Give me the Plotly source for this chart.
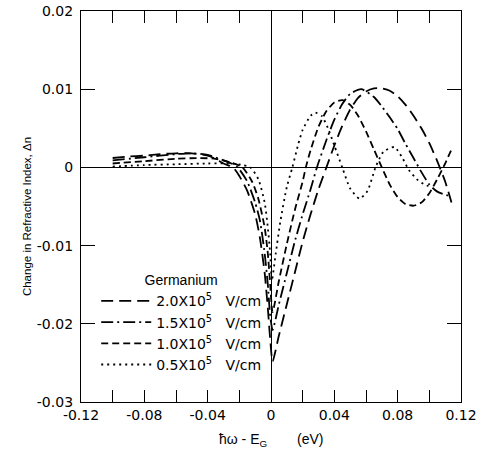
import plotly.graph_objects as go

# ---- data ----
x_20 = [-0.10, -0.09, -0.08, -0.07, -0.06, -0.05, -0.04, -0.035, -0.03, -0.024, -0.02, -0.015, -0.01, -0.007, -0.004, -0.002, -0.0005,
        0.001, 0.005, 0.01, 0.015, 0.02, 0.025, 0.03, 0.035, 0.04, 0.045, 0.05, 0.055, 0.06, 0.065, 0.07, 0.075, 0.08, 0.085, 0.09, 0.095, 0.10, 0.105, 0.11, 0.114]
y_20 = [0.0012, 0.0014, 0.0015, 0.0017, 0.0018, 0.0018, 0.0015, 0.0011, 0.0005, 0.0, -0.0011, -0.0030, -0.0060, -0.0090, -0.0135, -0.0180, -0.0220,
        -0.0248, -0.0215, -0.0175, -0.0135, -0.0095, -0.0060, -0.0028, 0.0, 0.0028, 0.0053, 0.0074, 0.0089, 0.0097, 0.0101, 0.0101, 0.0098, 0.0091, 0.0080, 0.0066, 0.0050, 0.0031, 0.0008, -0.0018, -0.0045]

x_15 = [-0.10, -0.08, -0.06, -0.05, -0.04, -0.03, -0.025, -0.021, -0.015, -0.01, -0.007, -0.004, -0.002, -0.0005,
        0.001, 0.005, 0.01, 0.015, 0.02, 0.025, 0.029, 0.035, 0.04, 0.045, 0.05, 0.057, 0.065, 0.07, 0.075, 0.08, 0.085, 0.09, 0.095, 0.10, 0.105, 0.11, 0.113]
y_15 = [0.0009, 0.0013, 0.0017, 0.0018, 0.0016, 0.0009, 0.0005, 0.0, -0.0018, -0.0045, -0.0068, -0.0110, -0.0150, -0.0190,
        -0.0208, -0.0175, -0.0135, -0.0095, -0.0060, -0.0028, 0.0, 0.0035, 0.0061, 0.0081, 0.0094, 0.0100, 0.0090, 0.0078, 0.0064, 0.0049, 0.0030, 0.0012, -0.0006, -0.0022, -0.0031, -0.0035, -0.0036]

x_10 = [-0.10, -0.08, -0.06, -0.045, -0.035, -0.025, -0.018, -0.012, -0.008, -0.004, -0.002, -0.0005,
        0.001, 0.005, 0.01, 0.015, 0.02, 0.022, 0.025, 0.03, 0.035, 0.04, 0.045, 0.05, 0.055, 0.06, 0.065, 0.07, 0.075, 0.08, 0.085, 0.09, 0.095, 0.10, 0.105, 0.11, 0.114]
y_10 = [0.0005, 0.0008, 0.0011, 0.0012, 0.0011, 0.0006, 0.0, -0.0018, -0.0040, -0.0077, -0.0110, -0.0150,
        -0.0185, -0.0145, -0.0098, -0.0055, -0.0018, 0.0, 0.0022, 0.0052, 0.0072, 0.0083, 0.0086, 0.0080, 0.0066, 0.0046, 0.0023, 0.0, -0.0022, -0.0038, -0.0047, -0.0049, -0.0045, -0.0033, -0.0015, 0.0005, 0.0023]

x_05 = [-0.10, -0.08, -0.06, -0.04, -0.025, -0.018, -0.013, -0.008, -0.004, -0.002, -0.0005,
        0.0005, 0.003, 0.006, 0.01, 0.0135, 0.017, 0.02, 0.025, 0.028, 0.032, 0.036, 0.04, 0.045, 0.05, 0.056, 0.061, 0.066, 0.071, 0.078, 0.083, 0.087, 0.092, 0.097, 0.101]
y_05 = [0.0001, 0.0003, 0.0004, 0.0005, 0.0005, 0.0003, 0.0, -0.0015, -0.0045, -0.0077, -0.0110,
        -0.0145, -0.0110, -0.0068, -0.0025, 0.0, 0.0028, 0.0048, 0.0066, 0.0070, 0.0066, 0.0050, 0.0028, 0.0, -0.0027, -0.0040, -0.0030, 0.0, 0.0020, 0.0026, 0.0012, -0.0003, -0.0015, -0.0022, -0.0025]

series = [
    ("2.0X10<sup>5</sup>   V/cm", x_20, y_20, "12px,6px"),
    ("1.5X10<sup>5</sup>   V/cm", x_15, y_15, "12px,4px,2px,4px"),
    ("1.0X10<sup>5</sup>   V/cm", x_10, y_10, "7px,4px"),
    ("0.5X10<sup>5</sup>   V/cm", x_05, y_05, "2px,4px"),
]

x_tickvals = [-0.12, -0.10, -0.08, -0.06, -0.04, -0.02, 0, 0.02, 0.04, 0.06, 0.08, 0.10, 0.12]
x_ticktext = ["-0.12", "", "-0.08", "", "-0.04", "", "0", "", "0.04", "", "0.08", "", "0.12"]
y_tickvals = [-0.03, -0.02, -0.01, 0, 0.01, 0.02]
y_ticktext = ["-0.03", "-0.02", "-0.01", "0", "0.01", "0.02"]

SANS = "Liberation Sans, Arial, sans-serif"
WIDE = "DejaVu Sans, Verdana, sans-serif"

fig = go.Figure()
for name, xs, ys, dash in series:
    fig.add_trace(go.Scatter(
        x=xs, y=ys, mode="lines", name=name,
        line=dict(color="black", width=1.8, dash=dash, shape="spline", smoothing=0.6),
    ))

fig.update_layout(
    width=479, height=455,
    margin=dict(l=81, r=18, t=11, b=53),
    paper_bgcolor="white", plot_bgcolor="white",
    font=dict(family=SANS, size=13, color="black"),
    showlegend=True,
    legend=dict(
        x=0.04, y=0.345, xanchor="left", yanchor="top",
        bgcolor="rgba(0,0,0,0)", borderwidth=0,
        title=dict(text="Germanium", side="top center", font=dict(family=SANS, size=14)),
        font=dict(family=WIDE, size=14), tracegroupgap=0, itemwidth=50,
    ),
    xaxis=dict(
        range=[-0.12, 0.12], tickvals=x_tickvals, ticktext=x_ticktext,
        ticks="inside", ticklen=12, tickwidth=1.3, tickcolor="black",
        showline=True, linecolor="black", linewidth=1.3, mirror="ticks",
        showgrid=False, zeroline=True, zerolinecolor="black", zerolinewidth=1.3,
        tickfont=dict(family=WIDE, size=14), automargin=False,
    ),
    yaxis=dict(
        range=[-0.03, 0.02], tickvals=y_tickvals, ticktext=y_ticktext,
        ticks="inside", ticklen=14, tickwidth=1.3, tickcolor="black",
        showline=True, linecolor="black", linewidth=1.3, mirror="ticks",
        showgrid=False, zeroline=True, zerolinecolor="black", zerolinewidth=1.3,
        tickfont=dict(family=WIDE, size=14), ticklabelstandoff=4, automargin=False,
    ),
    annotations=[
        dict(text="Change in Refractive Index, Δn", textangle=-90, xref="paper", yref="paper",
             x=-0.142, y=0.473, xanchor="center", yanchor="middle", showarrow=False,
             font=dict(family=SANS, size=11.5)),
        dict(text="ħω - E<sub>G</sub>", xref="paper", yref="paper", x=0.427, y=-0.097,
             xanchor="center", yanchor="middle", showarrow=False, font=dict(family=SANS, size=14)),
        dict(text="(eV)", xref="paper", yref="paper", x=0.603, y=-0.095,
             xanchor="center", yanchor="middle", showarrow=False, font=dict(family=SANS, size=14)),
    ],
)

fig.write_html("out.html")
